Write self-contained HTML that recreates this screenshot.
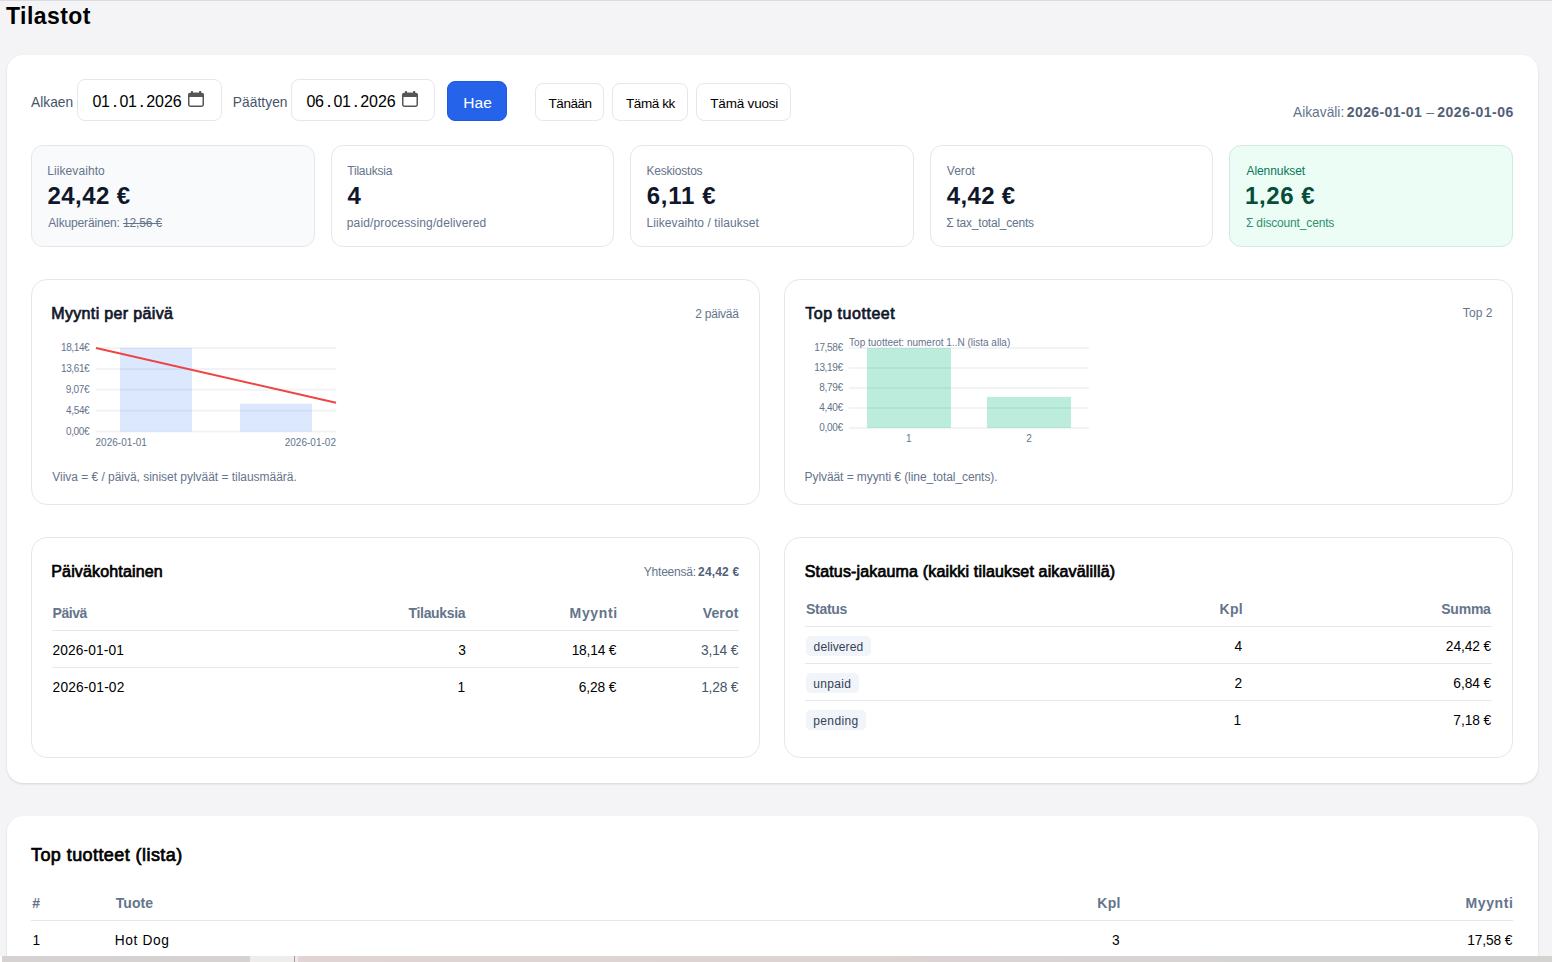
<!DOCTYPE html>
<html lang="fi"><head><meta charset="utf-8"><title>Tilastot</title>
<style>
*{box-sizing:border-box;margin:0;padding:0}
html,body{width:1552px;height:962px;overflow:hidden}
body{background:#f4f4f6;font-family:"Liberation Sans",sans-serif;position:relative}
.t{position:absolute;white-space:pre;line-height:1;font-family:"Liberation Sans",sans-serif}
.t b{font-weight:700}
.t s{text-decoration:line-through}
.abs{position:absolute}
.card{position:absolute;background:#fff;border-radius:16px;box-shadow:0 1px 3px rgba(0,0,0,.08),0 1px 2px rgba(0,0,0,.05)}
.box{position:absolute;background:#fff;border:1px solid #e5e7eb;border-radius:16px}
.kpi{position:absolute;top:145px;height:102px;background:#fff;border:1px solid #e5e7eb;border-radius:12px}
.inp{position:absolute;background:#fff;border:1px solid #e5e7eb;border-radius:8px}
.btn{position:absolute;background:#fff;border:1px solid #e5e7eb;border-radius:8px}
.hl{position:absolute;height:1px;background:#e5e7eb}
.badge{position:absolute;height:20px;background:#f1f5f9;border-radius:5px}
</style></head><body>
<div class="abs" style="left:0;top:0;width:1552px;height:1px;background:#dcdce0"></div>

<!-- main card -->
<div class="card" style="left:6.7px;top:54.6px;width:1531px;height:728px"></div>
<!-- filter row -->
<div class="inp" style="left:77px;top:79px;width:145px;height:42px"></div>
<div class="inp" style="left:291px;top:79px;width:144px;height:42px"></div>
<div class="abs" style="left:447px;top:81px;width:60px;height:40px;background:#2563eb;border:1px solid #1f5ae6;border-radius:8px"></div>
<div class="btn" style="left:535px;top:83px;width:69px;height:38px"></div>
<div class="btn" style="left:612px;top:83px;width:76px;height:38px"></div>
<div class="btn" style="left:696px;top:83px;width:95px;height:38px"></div>
<!-- calendar icons -->
<svg class="abs" style="left:187px;top:90px" width="18" height="18" viewBox="0 0 18 18"><path d="M1.75 5.3a1.8 1.8 0 0 1 1.8-1.8h10.9a1.8 1.8 0 0 1 1.8 1.8v9.15a1.8 1.8 0 0 1-1.8 1.8H3.55a1.8 1.8 0 0 1-1.8-1.8z" fill="none" stroke="#565656" stroke-width="1.5"/><path d="M1 7.1V5.3a2.55 2.55 0 0 1 2.55-2.55h10.9A2.55 2.55 0 0 1 17 5.3v1.8z" fill="#565656"/><rect x="4" y="1" width="2" height="3" rx=".5" fill="#565656"/><rect x="12.1" y="1" width="2" height="3" rx=".5" fill="#565656"/></svg>
<svg class="abs" style="left:401px;top:90px" width="18" height="18" viewBox="0 0 18 18"><path d="M1.75 5.3a1.8 1.8 0 0 1 1.8-1.8h10.9a1.8 1.8 0 0 1 1.8 1.8v9.15a1.8 1.8 0 0 1-1.8 1.8H3.55a1.8 1.8 0 0 1-1.8-1.8z" fill="none" stroke="#565656" stroke-width="1.5"/><path d="M1 7.1V5.3a2.55 2.55 0 0 1 2.55-2.55h10.9A2.55 2.55 0 0 1 17 5.3v1.8z" fill="#565656"/><rect x="4" y="1" width="2" height="3" rx=".5" fill="#565656"/><rect x="12.1" y="1" width="2" height="3" rx=".5" fill="#565656"/></svg>

<!-- KPI cards -->
<div class="kpi" style="left:31px;width:284px;background:#f8fafc"></div>
<div class="kpi" style="left:331px;width:283px"></div>
<div class="kpi" style="left:630px;width:284px"></div>
<div class="kpi" style="left:930px;width:283px"></div>
<div class="kpi" style="left:1229px;width:284px;background:#ecfdf5;border-color:#d1e9df"></div>

<!-- chart cards -->
<div class="box" style="left:31px;top:279px;width:729px;height:226px"></div>
<div class="box" style="left:784px;top:279px;width:729px;height:226px"></div>
<svg class="abs" style="left:31px;top:279px" width="729" height="226" viewBox="31 279 729 226">
 <g stroke="#f1f3f5" stroke-width="2"><line x1="96" x2="336" y1="348" y2="348"/><line x1="96" x2="336" y1="368.9" y2="368.9"/><line x1="96" x2="336" y1="389.8" y2="389.8"/><line x1="96" x2="336" y1="410.7" y2="410.7"/><line x1="96" x2="336" y1="431.6" y2="431.6"/></g>
 <rect x="120" y="348" width="72" height="83.6" fill="#3b82f6" fill-opacity=".18"/>
 <rect x="240" y="403.8" width="72" height="27.8" fill="#3b82f6" fill-opacity=".18"/>
 <line x1="96" y1="348" x2="336" y2="402.7" stroke="#ef4444" stroke-width="2"/>
</svg>
<svg class="abs" style="left:784px;top:279px" width="729" height="226" viewBox="784 279 729 226">
 <g stroke="#f1f3f5" stroke-width="2"><line x1="849" x2="1089" y1="348" y2="348"/><line x1="849" x2="1089" y1="368" y2="368"/><line x1="849" x2="1089" y1="388" y2="388"/><line x1="849" x2="1089" y1="408" y2="408"/><line x1="849" x2="1089" y1="428" y2="428"/></g>
 <rect x="867" y="348" width="84" height="80" fill="#10b981" fill-opacity=".28"/>
 <rect x="987" y="396.9" width="84" height="31.1" fill="#10b981" fill-opacity=".28"/>
</svg>

<!-- table cards -->
<div class="box" style="left:31px;top:537px;width:729px;height:221px"></div>
<div class="box" style="left:784px;top:537px;width:729px;height:221px"></div>
<div class="hl" style="left:52px;top:630px;width:687px"></div>
<div class="hl" style="left:52px;top:667px;width:687px"></div>
<div class="hl" style="left:805px;top:626px;width:687px"></div>
<div class="hl" style="left:805px;top:663px;width:687px"></div>
<div class="hl" style="left:805px;top:700px;width:687px"></div>
<div class="badge" style="left:806px;top:636px;width:65px"></div>
<div class="badge" style="left:806px;top:673px;width:53px"></div>
<div class="badge" style="left:806px;top:710px;width:60px"></div>

<!-- bottom card -->
<div class="card" style="left:6.7px;top:815.5px;width:1531px;height:200px"></div>
<div class="hl" style="left:31px;top:920px;width:1482px"></div>

<span class="t" id="t0" style="left:6.00px;top:5.01px;font-size:23.00px;font-weight:700;color:#000;letter-spacing:0.435px;">Tilastot</span>
<span class="t" id="t1" style="left:31.00px;top:96.01px;font-size:13.75px;font-weight:400;color:#475569;letter-spacing:0.026px;">Alkaen</span>
<span class="t" id="t2" style="left:232.68px;top:96.01px;font-size:13.75px;font-weight:400;color:#475569;letter-spacing:0.080px;">Päättyen</span>
<span class="t" id="t3" style="left:463.29px;top:94.51px;font-size:15.50px;font-weight:400;color:#fff;letter-spacing:0.075px;">Hae</span>
<span class="t" id="t4" style="left:548.59px;top:97.01px;font-size:13.50px;font-weight:400;color:#000;letter-spacing:-0.464px;">Tänään</span>
<span class="t" id="t5" style="left:626.04px;top:97.01px;font-size:13.50px;font-weight:400;color:#000;letter-spacing:-0.418px;">Tämä kk</span>
<span class="t" id="t6" style="left:710.29px;top:97.01px;font-size:13.50px;font-weight:400;color:#000;letter-spacing:-0.187px;">Tämä vuosi</span>
<span class="t" id="t7" style="left:1293.00px;top:106.01px;font-size:13.75px;font-weight:400;color:#64748b;letter-spacing:0.004px;">Aikaväli:</span>
<span class="t" id="t8" style="left:1346.81px;top:105.01px;font-size:14.00px;font-weight:700;color:#526077;letter-spacing:0.379px;">2026-01-01</span>
<span class="t" id="t9" style="left:1426.20px;top:105.01px;font-size:14.00px;font-weight:400;color:#64748b;">–</span>
<span class="t" id="t10" style="left:1437.31px;top:105.01px;font-size:14.00px;font-weight:700;color:#526077;letter-spacing:0.491px;">2026-01-06</span>
<span class="t" id="t11" style="left:47.31px;top:165.00px;font-size:12.00px;font-weight:400;color:#64748b;letter-spacing:0.071px;">Liikevaihto</span>
<span class="t" id="t12" style="left:47.50px;top:183.76px;font-size:24.00px;font-weight:700;color:#0f172a;letter-spacing:0.440px;">24,42 €</span>
<span class="t" id="t13" style="left:48.25px;top:217.00px;font-size:12.00px;font-weight:400;color:#64748b;letter-spacing:-0.145px;">Alkuperäinen: <s>12,56 €</s></span>
<span class="t" id="t14" style="left:347.31px;top:165.00px;font-size:12.00px;font-weight:400;color:#64748b;letter-spacing:-0.225px;">Tilauksia</span>
<span class="t" id="t15" style="left:347.50px;top:183.76px;font-size:24.00px;font-weight:700;color:#0f172a;">4</span>
<span class="t" id="t16" style="left:346.75px;top:217.00px;font-size:12.00px;font-weight:400;color:#64748b;letter-spacing:0.139px;">paid/processing/delivered</span>
<span class="t" id="t17" style="left:646.56px;top:165.00px;font-size:12.00px;font-weight:400;color:#64748b;letter-spacing:-0.219px;">Keskiostos</span>
<span class="t" id="t18" style="left:646.75px;top:183.76px;font-size:24.00px;font-weight:700;color:#0f172a;letter-spacing:0.713px;">6,11 €</span>
<span class="t" id="t19" style="left:646.56px;top:217.00px;font-size:12.00px;font-weight:400;color:#64748b;letter-spacing:0.076px;">Liikevaihto / tilaukset</span>
<span class="t" id="t20" style="left:946.75px;top:165.00px;font-size:12.00px;font-weight:400;color:#64748b;letter-spacing:0.046px;">Verot</span>
<span class="t" id="t21" style="left:946.75px;top:183.76px;font-size:24.00px;font-weight:700;color:#0f172a;letter-spacing:0.347px;">4,42 €</span>
<span class="t" id="t22" style="left:946.19px;top:217.00px;font-size:12.00px;font-weight:400;color:#64748b;letter-spacing:-0.221px;">Σ tax_total_cents</span>
<span class="t" id="t23" style="left:1246.50px;top:165.00px;font-size:12.00px;font-weight:400;color:#047857;letter-spacing:-0.074px;">Alennukset</span>
<span class="t" id="t24" style="left:1245.00px;top:183.76px;font-size:24.00px;font-weight:700;color:#064e3b;letter-spacing:0.597px;">1,26 €</span>
<span class="t" id="t25" style="left:1245.94px;top:217.00px;font-size:12.00px;font-weight:400;color:#2f8f72;letter-spacing:-0.159px;">Σ discount_cents</span>
<span class="t" id="t26" style="left:51.25px;top:306.01px;font-size:16.00px;font-weight:401;color:#0f172a;letter-spacing:0.343px;-webkit-text-stroke:0.7px currentColor;">Myynti per päivä</span>
<span class="t" id="t27" style="left:695.24px;top:307.50px;font-size:12.00px;font-weight:400;color:#64748b;letter-spacing:-0.241px;">2 päivää</span>
<span class="t" id="t28" style="left:60.97px;top:343.41px;font-size:10.00px;font-weight:400;color:#64748b;letter-spacing:-0.376px;">18,14€</span>
<span class="t" id="t29" style="left:60.97px;top:364.31px;font-size:10.00px;font-weight:400;color:#64748b;letter-spacing:-0.376px;">13,61€</span>
<span class="t" id="t30" style="left:65.73px;top:385.21px;font-size:10.00px;font-weight:400;color:#64748b;letter-spacing:-0.269px;">9,07€</span>
<span class="t" id="t31" style="left:66.04px;top:406.10px;font-size:10.00px;font-weight:400;color:#64748b;letter-spacing:-0.346px;">4,54€</span>
<span class="t" id="t32" style="left:65.89px;top:427.00px;font-size:10.00px;font-weight:400;color:#64748b;letter-spacing:-0.307px;">0,00€</span>
<span class="t" id="t33" style="left:95.53px;top:438.00px;font-size:10.00px;font-weight:400;color:#64748b;letter-spacing:0.024px;">2026-01-01</span>
<span class="t" id="t34" style="left:284.63px;top:438.00px;font-size:10.00px;font-weight:400;color:#64748b;letter-spacing:0.024px;">2026-01-02</span>
<span class="t" id="t35" style="left:52.30px;top:471.21px;font-size:12.00px;font-weight:400;color:#64748b;letter-spacing:-0.030px;">Viiva = € / päivä, siniset pylväät = tilausmäärä.</span>
<span class="t" id="t36" style="left:805.25px;top:306.01px;font-size:16.00px;font-weight:401;color:#0f172a;letter-spacing:0.529px;-webkit-text-stroke:0.7px currentColor;">Top tuotteet</span>
<span class="t" id="t37" style="left:1462.81px;top:307.00px;font-size:12.00px;font-weight:400;color:#64748b;letter-spacing:0.079px;">Top 2</span>
<span class="t" id="t38" style="left:849.09px;top:338.25px;font-size:10.00px;font-weight:400;color:#64748b;letter-spacing:-0.000px;">Top tuotteet: numerot 1..N (lista alla)</span>
<span class="t" id="t39" style="left:814.17px;top:343.41px;font-size:10.00px;font-weight:400;color:#64748b;letter-spacing:-0.336px;">17,58€</span>
<span class="t" id="t40" style="left:814.17px;top:363.41px;font-size:10.00px;font-weight:400;color:#64748b;letter-spacing:-0.336px;">13,19€</span>
<span class="t" id="t41" style="left:819.19px;top:383.41px;font-size:10.00px;font-weight:400;color:#64748b;letter-spacing:-0.282px;">8,79€</span>
<span class="t" id="t42" style="left:819.34px;top:403.41px;font-size:10.00px;font-weight:400;color:#64748b;letter-spacing:-0.321px;">4,40€</span>
<span class="t" id="t43" style="left:819.19px;top:423.41px;font-size:10.00px;font-weight:400;color:#64748b;letter-spacing:-0.282px;">0,00€</span>
<span class="t" id="t44" style="left:906.11px;top:434.21px;font-size:10.00px;font-weight:400;color:#64748b;">1</span>
<span class="t" id="t45" style="left:1026.19px;top:434.21px;font-size:10.00px;font-weight:400;color:#64748b;">2</span>
<span class="t" id="t46" style="left:804.56px;top:471.25px;font-size:12.00px;font-weight:400;color:#64748b;letter-spacing:-0.074px;">Pylväät = myynti € (line_total_cents).</span>
<span class="t" id="t47" style="left:51.25px;top:564.01px;font-size:16.00px;font-weight:401;color:#000;letter-spacing:0.153px;-webkit-text-stroke:0.7px currentColor;">Päiväkohtainen</span>
<span class="t" id="t48" style="left:643.81px;top:565.50px;font-size:12.00px;font-weight:400;color:#64748b;letter-spacing:-0.221px;">Yhteensä:</span>
<span class="t" id="t49" style="left:698.12px;top:565.50px;font-size:12.00px;font-weight:700;color:#526077;letter-spacing:0.157px;">24,42 €</span>
<span class="t" id="t50" style="left:52.62px;top:606.01px;font-size:14.00px;font-weight:700;color:#64748b;letter-spacing:-0.452px;">Päivä</span>
<span class="t" id="t51" style="left:408.50px;top:606.01px;font-size:14.00px;font-weight:700;color:#64748b;letter-spacing:-0.315px;">Tilauksia</span>
<span class="t" id="t52" style="left:569.62px;top:606.01px;font-size:14.00px;font-weight:700;color:#64748b;letter-spacing:0.620px;">Myynti</span>
<span class="t" id="t53" style="left:702.75px;top:606.01px;font-size:14.00px;font-weight:700;color:#64748b;letter-spacing:0.135px;">Verot</span>
<span class="t" id="t54" style="left:52.61px;top:644.01px;font-size:13.75px;font-weight:400;color:#000;letter-spacing:0.095px;">2026-01-01</span>
<span class="t" id="t55" style="left:458.30px;top:644.01px;font-size:13.75px;font-weight:400;color:#000;">3</span>
<span class="t" id="t56" style="left:571.64px;top:644.01px;font-size:13.75px;font-weight:400;color:#000;letter-spacing:-0.190px;">18,14 €</span>
<span class="t" id="t57" style="left:701.07px;top:644.01px;font-size:13.75px;font-weight:400;color:#475569;letter-spacing:-0.187px;">3,14 €</span>
<span class="t" id="t58" style="left:52.61px;top:681.01px;font-size:13.75px;font-weight:400;color:#000;letter-spacing:0.151px;">2026-01-02</span>
<span class="t" id="t59" style="left:457.50px;top:681.01px;font-size:13.75px;font-weight:400;color:#000;">1</span>
<span class="t" id="t60" style="left:578.86px;top:681.01px;font-size:13.75px;font-weight:400;color:#000;letter-spacing:-0.141px;">6,28 €</span>
<span class="t" id="t61" style="left:701.14px;top:681.01px;font-size:13.75px;font-weight:400;color:#475569;letter-spacing:-0.201px;">1,28 €</span>
<span class="t" id="t62" style="left:804.75px;top:564.01px;font-size:16.00px;font-weight:401;color:#000;letter-spacing:0.161px;-webkit-text-stroke:0.7px currentColor;">Status-jakauma (kaikki tilaukset aikavälillä)</span>
<span class="t" id="t63" style="left:806.03px;top:602.01px;font-size:14.00px;font-weight:700;color:#64748b;letter-spacing:-0.302px;">Status</span>
<span class="t" id="t64" style="left:1219.62px;top:602.01px;font-size:14.00px;font-weight:700;color:#64748b;letter-spacing:0.195px;">Kpl</span>
<span class="t" id="t65" style="left:1441.28px;top:602.01px;font-size:14.00px;font-weight:700;color:#64748b;letter-spacing:-0.236px;">Summa</span>
<span class="t" id="t66" style="left:813.62px;top:641.00px;font-size:12.00px;font-weight:400;color:#334155;letter-spacing:0.105px;">delivered</span>
<span class="t" id="t67" style="left:813.25px;top:678.00px;font-size:12.00px;font-weight:400;color:#334155;letter-spacing:0.325px;">unpaid</span>
<span class="t" id="t68" style="left:813.25px;top:715.00px;font-size:12.00px;font-weight:400;color:#334155;letter-spacing:0.368px;">pending</span>
<span class="t" id="t69" style="left:1234.44px;top:640.26px;font-size:13.75px;font-weight:400;color:#000;">4</span>
<span class="t" id="t70" style="left:1234.40px;top:677.01px;font-size:13.75px;font-weight:400;color:#000;">2</span>
<span class="t" id="t71" style="left:1233.50px;top:714.01px;font-size:13.75px;font-weight:400;color:#000;">1</span>
<span class="t" id="t72" style="left:1445.86px;top:640.26px;font-size:13.75px;font-weight:400;color:#000;letter-spacing:-0.101px;">24,42 €</span>
<span class="t" id="t73" style="left:1453.36px;top:677.01px;font-size:13.75px;font-weight:400;color:#000;letter-spacing:-0.093px;">6,84 €</span>
<span class="t" id="t74" style="left:1453.36px;top:714.01px;font-size:13.75px;font-weight:400;color:#000;letter-spacing:-0.093px;">7,18 €</span>
<span class="t" id="t75" style="left:30.97px;top:845.76px;font-size:18.00px;font-weight:401;color:#000;letter-spacing:0.428px;-webkit-text-stroke:0.7px currentColor;">Top tuotteet (lista)</span>
<span class="t" id="t76" style="left:32.28px;top:895.51px;font-size:14.00px;font-weight:700;color:#64748b;">#</span>
<span class="t" id="t77" style="left:115.75px;top:895.51px;font-size:14.00px;font-weight:700;color:#64748b;letter-spacing:0.069px;">Tuote</span>
<span class="t" id="t78" style="left:1097.33px;top:895.51px;font-size:14.00px;font-weight:700;color:#64748b;letter-spacing:0.224px;">Kpl</span>
<span class="t" id="t79" style="left:1465.42px;top:895.51px;font-size:14.00px;font-weight:700;color:#64748b;letter-spacing:0.653px;">Myynti</span>
<span class="t" id="t80" style="left:32.39px;top:934.01px;font-size:13.75px;font-weight:400;color:#000;">1</span>
<span class="t" id="t81" style="left:114.68px;top:934.01px;font-size:13.75px;font-weight:400;color:#000;letter-spacing:0.650px;">Hot Dog</span>
<span class="t" id="t82" style="left:1111.90px;top:934.01px;font-size:13.75px;font-weight:400;color:#000;">3</span>
<span class="t" id="t83" style="left:1467.14px;top:934.01px;font-size:13.75px;font-weight:400;color:#000;letter-spacing:-0.117px;">17,58 €</span>
<span class="t" id="t84" style="left:92.50px;top:93.80px;font-size:16.00px;font-weight:400;color:#000;letter-spacing:-0.452px;">01</span>
<span class="t" id="t85" style="left:112.59px;top:91.81px;font-size:18.00px;font-weight:400;color:#000;">.</span>
<span class="t" id="t86" style="left:119.60px;top:93.80px;font-size:16.00px;font-weight:400;color:#000;letter-spacing:-0.452px;">01</span>
<span class="t" id="t87" style="left:139.19px;top:91.81px;font-size:18.00px;font-weight:400;color:#000;">.</span>
<span class="t" id="t88" style="left:146.25px;top:93.80px;font-size:16.00px;font-weight:400;color:#000;letter-spacing:-0.068px;">2026</span>
<span class="t" id="t89" style="left:306.50px;top:93.80px;font-size:16.00px;font-weight:400;color:#000;letter-spacing:-0.452px;">06</span>
<span class="t" id="t90" style="left:326.59px;top:91.81px;font-size:18.00px;font-weight:400;color:#000;">.</span>
<span class="t" id="t91" style="left:333.60px;top:93.80px;font-size:16.00px;font-weight:400;color:#000;letter-spacing:-0.452px;">01</span>
<span class="t" id="t92" style="left:353.19px;top:91.81px;font-size:18.00px;font-weight:400;color:#000;">.</span>
<span class="t" id="t93" style="left:360.25px;top:93.80px;font-size:16.00px;font-weight:400;color:#000;letter-spacing:-0.068px;">2026</span>

<!-- bottom strip -->
<div class="abs" style="left:0;top:956px;width:1552px;height:6px;background:linear-gradient(90deg,#e0d4d4 298px,#dcd3d3 900px,#d5d3d2 1250px)"></div>
<div class="abs" style="left:0;top:956px;width:2px;height:6px;background:#fff"></div>
<div class="abs" style="left:2px;top:956px;width:248px;height:6px;background:#d5d2d1"></div>
<div class="abs" style="left:250px;top:956px;width:44px;height:6px;background:#efedec"></div>
<div class="abs" style="left:294px;top:956px;width:1px;height:6px;background:#a89ea0"></div>
<div class="abs" style="left:295px;top:956px;width:3px;height:6px;background:#eee8e8"></div>
</body></html>
